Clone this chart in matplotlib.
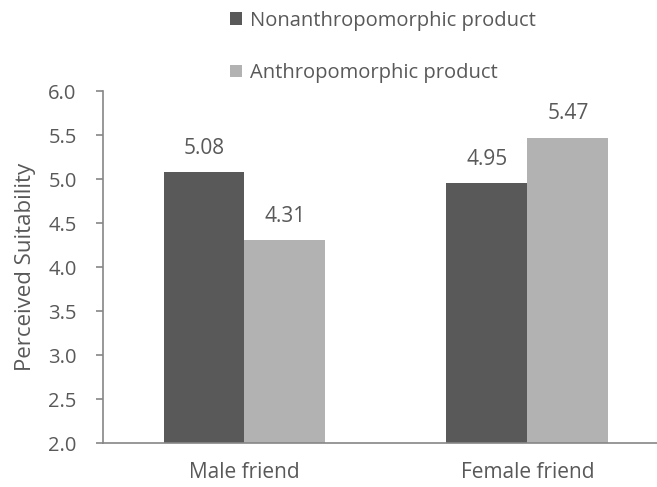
import matplotlib.pyplot as plt
import numpy as np

categories = ['Male friend', 'Female friend']
series_names = ['Nonanthropomorphic product', 'Anthropomorphic product']
nonanthro = [5.08, 4.95]
anthro = [4.31, 5.47]
colors = ['#595959', '#b2b2b2']
yticks = [2.0, 2.5, 3.0, 3.5, 4.0, 4.5, 5.0, 5.5, 6.0]

plt.rcParams['font.family'] = ['Open Sans', 'DejaVu Sans']
text_color = '#595959'
axis_color = '#868686'

fig = plt.figure(figsize=(6.57, 4.87), dpi=100)
ax = fig.add_axes([0.1568, 0.0903, 0.8432, 0.7228])

x = np.arange(len(categories))
width = 0.286
bars = []
for i, (vals, name, c) in enumerate(zip([nonanthro, anthro], series_names, colors)):
    b = ax.bar(x + (i - 0.5) * width, vals, width, color=c, label=name,
               bottom=0, zorder=2)
    bars.append(b)
    for rect, v in zip(b, vals):
        ax.text(rect.get_x() + rect.get_width() / 2, v + 0.15, f'{v:.2f}',
                ha='center', va='bottom', fontsize=15, color=text_color)

ax.set_ylim(2.0, 6.0)
ax.set_xlim(-0.5, 1.458)
ax.set_yticks(yticks)
ax.set_yticklabels([f'{t:.1f}' for t in yticks])
ax.set_xticks(x)
ax.set_xticklabels(categories)
ax.tick_params(axis='y', colors=axis_color, labelcolor=text_color,
               labelsize=14.5, length=5, width=1.2, direction='out', pad=14)
ax.tick_params(axis='x', length=0, labelcolor=text_color, labelsize=15, pad=14)
ax.set_ylabel('Perceived Suitability', fontsize=16, color=text_color, labelpad=9)

for s in ['top', 'right']:
    ax.spines[s].set_visible(False)
for s in ['left', 'bottom']:
    ax.spines[s].set_color(axis_color)
    ax.spines[s].set_linewidth(1.2)

fig.legend(handles=bars, labels=series_names, loc='upper left',
           bbox_to_anchor=(0.322, 1.015), frameon=False, fontsize=14.5,
           labelspacing=1.6, handlelength=0.6, handleheight=0.6,
           handletextpad=0.4, labelcolor=text_color)

fig.savefig('out.png', dpi=100)
